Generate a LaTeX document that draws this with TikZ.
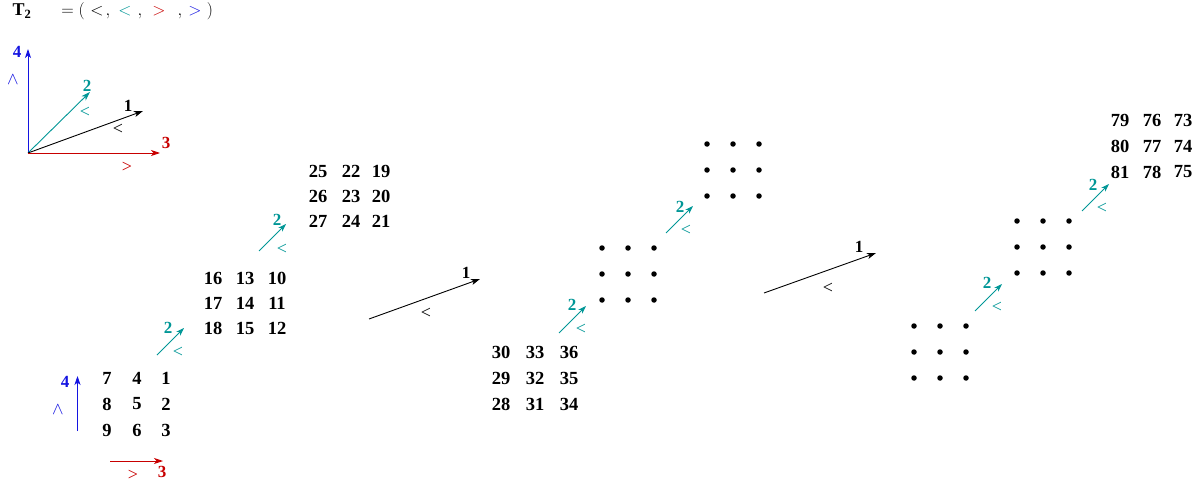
\documentclass[tikz,border=0pt]{standalone}
\usepackage{fontspec}
\setmainfont{Liberation Serif}
\usetikzlibrary{arrows.meta}
\definecolor{tealc}{RGB}{0,150,150}
\definecolor{redc}{RGB}{200,0,0}
\definecolor{bluec}{RGB}{20,20,225}
\begin{document}
\begin{tikzpicture}[x=1pt,y=-1pt,
  num/.style={font=\fontsize{18.5}{20}\selectfont\bfseries, inner sep=0pt},
  lab/.style={font=\fontsize{17}{19}\selectfont\bfseries, inner sep=0pt},
  rel/.style={font=\fontsize{18}{20}\selectfont, inner sep=0pt},
  ttl/.style={font=\fontsize{18}{20}\selectfont, inner sep=0pt, anchor=base},
  arr/.style={-{Stealth[length=9pt,width=6pt,inset=2.5pt]}, line width=0.9pt},
  sarr/.style={-{Stealth[length=8pt,width=5.5pt,inset=2.2pt]}, line width=0.9pt, tealc},
  dot/.style={circle, fill=black, inner sep=0pt, minimum size=5.5pt}]
\useasboundingbox (0,0) rectangle (1203,487);

% title
\node[ttl] (tT) at (22,16) {$\mathbf{T_2}$};
\node[ttl] (teq) at (73,16) {$=($};
\node[ttl] (t1) at (97,16) {$<$};
\node[ttl] (c1) at (108,16) {$,$};
\node[ttl,tealc] (t2) at (125,16) {$<$};
\node[ttl] (c2) at (140,16) {$,$};
\node[ttl,redc] (t3) at (159,16) {$>$};
\node[ttl] (c3) at (180,16) {$,$};
\node[ttl,bluec] (t4) at (195,16) {$>$};
\node[ttl] (tp) at (210,16) {$)$};

% top-left axes
\coordinate (o) at (28,153);
\coordinate (x4) at (28,49);
\coordinate (x2) at (90,92);
\coordinate (x1) at (143,111);
\coordinate (x3) at (160,153);
\draw[arr,bluec] (o) -- (x4);
\draw[arr,tealc] (o) -- (x2);
\draw[arr,black] (o) -- (x1);
\draw[arr,redc] (o) -- (x3);
\node[lab,bluec] (l4) at (17,52) {4};
\node[rel,bluec] (w4) at (13,80) {$\wedge$};
\node[lab,tealc] (l2) at (87,86) {2};
\node[rel,tealc] (w2) at (85,112) {<};
\node[lab] (l1) at (128,106) {1};
\node[rel] (w1) at (118,129) {<};
\node[lab,redc] (l3) at (166,143) {3};
\node[rel,redc] (w3) at (127,167) {>};

% bottom-left small axes
\coordinate (b4s) at (77.5,431);
\coordinate (b4e) at (77.5,376);
\draw[arr,bluec] (b4s) -- (b4e);
\node[lab,bluec] (bl4) at (65,382) {4};
\node[rel,bluec] (bw4) at (58,410) {$\wedge$};
\coordinate (b3s) at (110,461);
\coordinate (b3e) at (163,461);
\draw[arr,redc] (b3s) -- (b3e);
\node[lab,redc] (bl3) at (162,472) {3};
\node[rel,redc] (bw3) at (133,475) {>};

% number grids
\foreach \a/\b/\c [count=\r from 0] in {7/4/1,8/5/2,9/6/3}{
  \node[num] (g1a\r) at (107,378+26*\r) {\a};
  \node[num] (g1b\r) at (137,378+26*\r) {\b};
  \node[num] (g1c\r) at (166,378+26*\r) {\c};}
\foreach \a/\b/\c [count=\r from 0] in {16/13/10,17/14/11,18/15/12}{
  \node[num] (g2a\r) at (213,278+25*\r) {\a};
  \node[num] (g2b\r) at (245,278+25*\r) {\b};
  \node[num] (g2c\r) at (277,278+25*\r) {\c};}
\foreach \a/\b/\c [count=\r from 0] in {25/22/19,26/23/20,27/24/21}{
  \node[num] (g3a\r) at (318,171+25*\r) {\a};
  \node[num] (g3b\r) at (351,171+25*\r) {\b};
  \node[num] (g3c\r) at (381,171+25*\r) {\c};}
\foreach \a/\b/\c [count=\r from 0] in {30/33/36,29/32/35,28/31/34}{
  \node[num] (g4a\r) at (501,352+26*\r) {\a};
  \node[num] (g4b\r) at (535,352+26*\r) {\b};
  \node[num] (g4c\r) at (569,352+26*\r) {\c};}
\foreach \a/\b/\c [count=\r from 0] in {79/76/73,80/77/74,81/78/75}{
  \node[num] (g9a\r) at (1120,120+26*\r) {\a};
  \node[num] (g9b\r) at (1152,120+26*\r) {\b};
  \node[num] (g9c\r) at (1183,120+26*\r) {\c};}

% dot grids
\foreach \x/\y [count=\k] in {602/248,707/144,914/326,1017/221}{
  \foreach \i in {0,1,2}{
    \foreach \j in {0,1,2}{
      \node[dot] (d\k\i\j) at (\x+26*\i,\y+26*\j) {};}}}

% small teal arrows
\foreach \sx/\sy/\lx/\ly/\wx/\wy [count=\k] in {
  157/355/168/328/178/352,
  259/251/277/220/282/249,
  559/333/572/305/581/329,
  666/233/680/207/686/230,
  975/311/987/283/997/307,
  1082/211/1093/185/1102/208}{
  \coordinate (s\k) at (\sx,\sy);
  \coordinate (e\k) at (\sx+27,\sy-27);
  \draw[sarr] (s\k) -- (e\k);
  \node[lab,tealc] (sl\k) at (\lx,\ly) {2};
  \node[rel,tealc] (sw\k) at (\wx,\wy) {<};}

% black transition arrows
\coordinate (ga) at (369,319);
\coordinate (gb) at (480,279);
\draw[arr] (ga) -- (gb);
\node[lab] (gl) at (466,273) {1};
\node[rel] (gw) at (426,313) {<};
\coordinate (ha) at (764,293);
\coordinate (hb) at (876,253);
\draw[arr] (ha) -- (hb);
\node[lab] (hl) at (859,247) {1};
\node[rel] (hw) at (828,288) {<};
\end{tikzpicture}
\end{document}
